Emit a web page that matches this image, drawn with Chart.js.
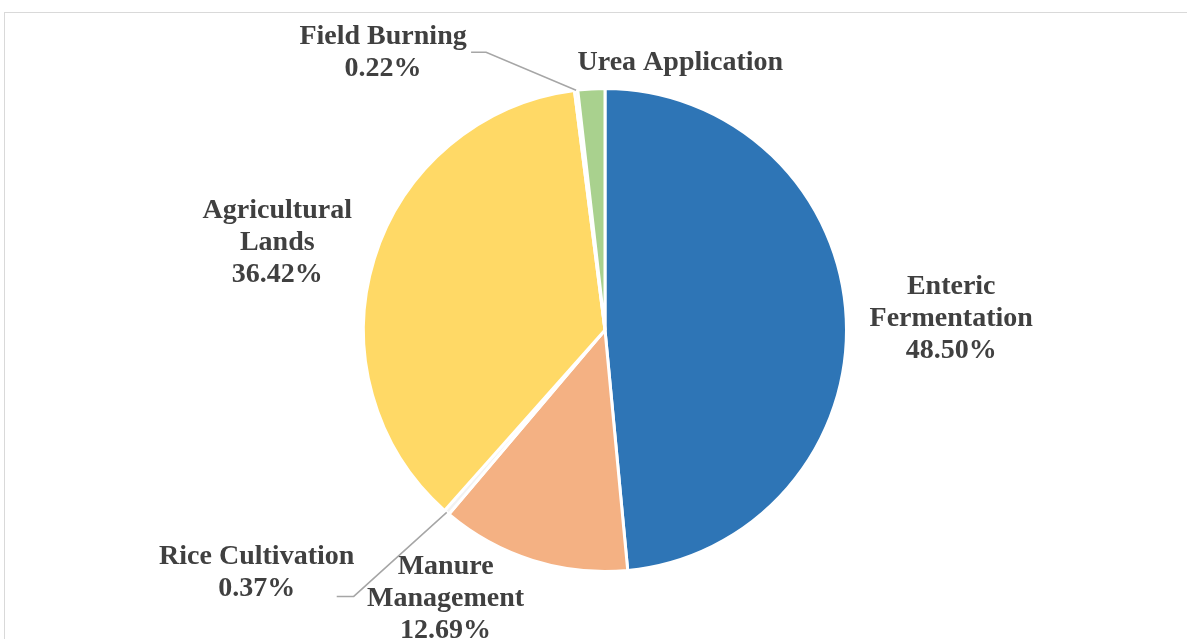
<!DOCTYPE html>
<html>
<head>
<meta charset="utf-8">
<script src="https://cdn.jsdelivr.net/npm/chart.js@4.4.0/dist/chart.umd.min.js"></script>
<style>
    html, body { margin: 0; padding: 0; background: #ffffff; overflow: hidden; }
    #frame {
        position: absolute; left: 4px; top: 12px;
        width: 1300px; height: 700px;
        border: 1px solid #d9d9d9;
    }
    #wrap { position: absolute; left: 0; top: 0; width: 1187px; height: 639px; }
</style>
</head>
<body>
<div id="frame"></div>
<div id="wrap"><canvas id="pie"></canvas></div>
<script>
// Agricultural emissions share (%)
const categories = [
    "Enteric Fermentation",
    "Manure Management",
    "Rice Cultivation",
    "Agricultural Lands",
    "Field Burning",
    "Urea Application"
];
const shares = [48.50, 12.69, 0.37, 36.42, 0.22, 1.80];

// label text lines (the percentage is appended from the data)
const labelLines = [
    ["Enteric", "Fermentation"],
    ["Manure", "Management"],
    ["Rice Cultivation"],
    ["Agricultural", "Lands"],
    ["Field Burning"],
    ["Urea Application"]
];
const showPercent = [true, true, true, true, true, false];

const sliceColors = ['#2E75B6', '#F4B183', '#F2F2F2', '#FFD966', '#F2F2F2', '#A9D18E'];

// label offset from the outer middle point of each slice
const labelOffsets = [[105, 0], [-87, 38], [-190, 60], [-97, -16], [-193, -37], [89, -26]];
// leader lines: [elbow, end] relative to the label centre, null = none
const leaders = [null, null, [[97, 24], [80, 24]], null, [[103, -1], [88, -1]], null];

const LINE_H = 32;

const pieLabels = {
    id: 'pieLabels',
    afterDatasetsDraw(chart) {
        const ctx = chart.ctx;
        const arcs = chart.getDatasetMeta(0).data;
        const total = shares.reduce((a, b) => a + b, 0);
        ctx.save();
        ctx.font = 'bold 28px "Liberation Serif", "Times New Roman", serif';
        ctx.fillStyle = '#404040';
        ctx.textAlign = 'center';
        ctx.textBaseline = 'middle';
        arcs.forEach((arc, i) => {
            const p = arc.getProps(['x', 'y', 'startAngle', 'endAngle', 'outerRadius'], true);
            const mid = (p.startAngle + p.endAngle) / 2;
            const ax = p.x + Math.cos(mid) * p.outerRadius;
            const ay = p.y + Math.sin(mid) * p.outerRadius;
            const cx = ax + labelOffsets[i][0];
            const cy = ay + labelOffsets[i][1];

            if (leaders[i]) {
                ctx.beginPath();
                ctx.strokeStyle = '#a6a6a6';
                ctx.lineWidth = 1.5;
                ctx.moveTo(ax, ay);
                ctx.lineTo(cx + leaders[i][0][0], cy + leaders[i][0][1]);
                ctx.lineTo(cx + leaders[i][1][0], cy + leaders[i][1][1]);
                ctx.stroke();
            }

            let lines = labelLines[i].slice();
            if (showPercent[i]) {
                lines.push((shares[i] / total * 100).toFixed(2) + '%');
            }
            lines.forEach((t, k) => {
                ctx.fillText(t, cx, cy + (k - (lines.length - 1) / 2) * LINE_H);
            });
        });
        ctx.restore();
    }
};

new Chart(document.getElementById('pie').getContext('2d'), {
    type: 'pie',
    data: {
        labels: categories,
        datasets: [{
            data: shares,
            backgroundColor: sliceColors,
            borderColor: '#ffffff',
            borderWidth: 3
        }]
    },
    options: {
        responsive: true,
        maintainAspectRatio: false,
        animation: false,
        layout: { padding: { left: 362, right: 339, top: 86, bottom: 65 } },
        plugins: {
            legend: { display: false },
            tooltip: { enabled: false }
        }
    },
    plugins: [pieLabels]
});
</script>
</body>
</html>
